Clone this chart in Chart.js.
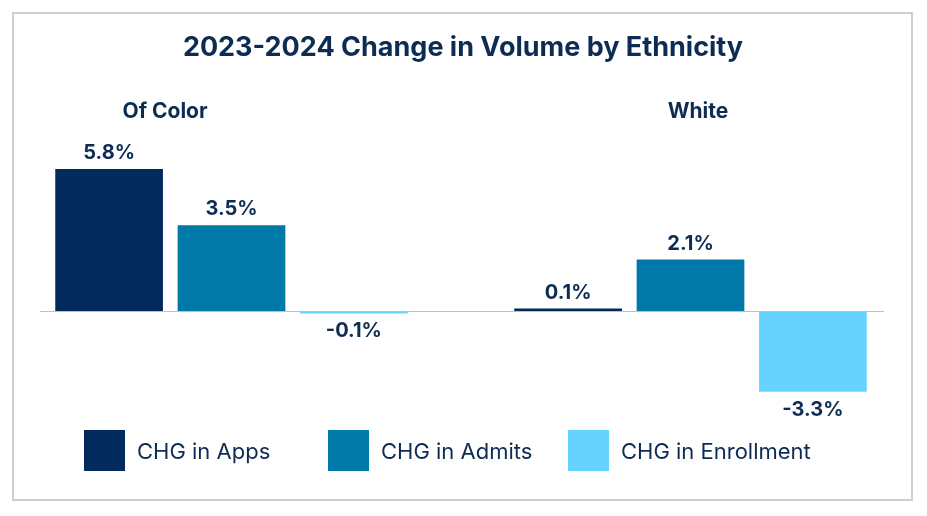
<!DOCTYPE html>
<html><head><meta charset="utf-8">
<script src="https://cdn.jsdelivr.net/npm/chart.js@4/dist/chart.umd.min.js"></script>
<style>
body{margin:0;width:927px;height:516px;background:#fff;font-family:Inter,Roboto,sans-serif;color:#0d2c54;position:relative;overflow:hidden}
#box{position:absolute;left:12px;top:12px;width:901px;height:489px;border:2px solid #cfcfcf;box-sizing:border-box}
#wrap{position:absolute;left:0;top:0;width:927px;height:516px}
.t{position:absolute;font-weight:700;white-space:nowrap;transform:translateX(-50%)}
.leg{position:absolute;top:430px;display:flex;align-items:center;font-size:22px}
.leg span{display:inline-block;width:41px;height:41px;margin-right:12px}
</style></head><body>
<div id="box"></div>
<div id="wrap"><canvas id="c" width="927" height="516"></canvas></div>
<div class="t" style="left:463px;top:30px;font-size:27px">2023-2024 Change in Volume by Ethnicity</div>
<div class="t" style="left:165px;top:98px;font-size:21px">Of Color</div>
<div class="t" style="left:698px;top:98px;font-size:21px">White</div>
<div class="leg" style="left:84px"><span style="background:#022b5b"></span>CHG in Apps</div>
<div class="leg" style="left:328px"><span style="background:#0079a9"></span>CHG in Admits</div>
<div class="leg" style="left:568px"><span style="background:#66d3ff"></span>CHG in Enrollment</div>
<script>
const categories = ['Of Color', 'White'];
const seriesNames = ['CHG in Apps', 'CHG in Admits', 'CHG in Enrollment'];
const apps = [5.8, 0.1];
const admits = [3.5, 2.1];
const enrollment = [-0.1, -3.3];
const colors = ['#022b5b', '#0079a9', '#66d3ff'];

const labelPlugin = {
  id: 'labels',
  afterDatasetsDraw(chart) {
    const ctx = chart.ctx;
    const y0 = chart.scales.y.getPixelForValue(0);
    ctx.save();
    ctx.strokeStyle = '#bfbfbf'; ctx.lineWidth = 1;
    ctx.beginPath(); ctx.moveTo(40, y0 + 0.5); ctx.lineTo(884, y0 + 0.5); ctx.stroke();
    ctx.font = 'bold 20px Inter, Roboto, sans-serif';
    ctx.fillStyle = '#0d2c54'; ctx.textAlign = 'center';
    chart.data.datasets.forEach((ds, i) => {
      chart.getDatasetMeta(i).data.forEach((bar, j) => {
        const v = ds.data[j];
        if (v >= 0) { ctx.textBaseline = 'bottom'; ctx.fillText(v.toFixed(1) + '%', bar.x, bar.y - 6); }
        else { ctx.textBaseline = 'top'; ctx.fillText(v.toFixed(1) + '%', bar.x, bar.y + 8); }
      });
    });
    ctx.restore();
  }
};

new Chart(document.getElementById('c'), {
  type: 'bar',
  data: {
    labels: categories,
    datasets: [apps, admits, enrollment].map((d, i) => ({
      label: seriesNames[i], data: d, backgroundColor: colors[i],
      categoryPercentage: 0.8, barPercentage: 0.88
    }))
  },
  options: {
    responsive: false, animation: false,
    layout: { padding: { left: 2, right: 7, top: 164, bottom: 107 } },
    plugins: { legend: { display: false }, tooltip: { enabled: false } },
    scales: {
      x: { display: false },
      y: { display: false, min: -4, max: 6 }
    }
  },
  plugins: [labelPlugin]
});
</script>
</body></html>
